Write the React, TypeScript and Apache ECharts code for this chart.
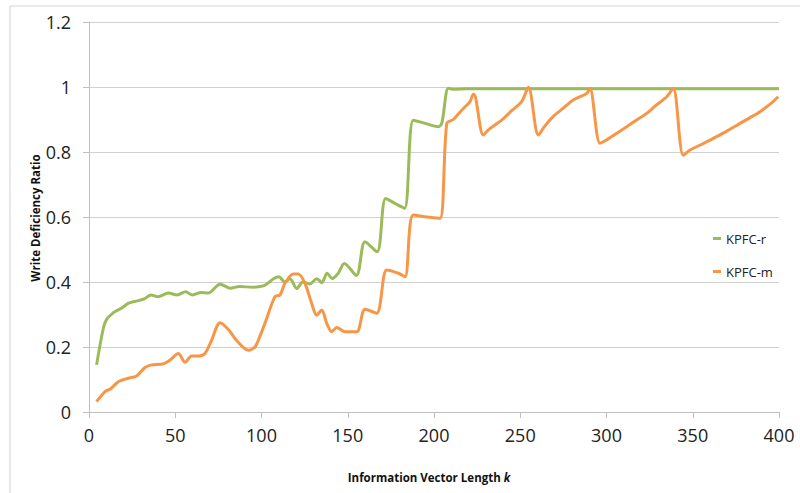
import React, { useEffect, useRef } from "react";
import * as echarts from "echarts";

const xTicks = [0, 50, 100, 150, 200, 250, 300, 350, 400];
const yTicks = [0, 0.2, 0.4, 0.6, 0.8, 1, 1.2];

const kR = [4.4, 8, 10, 14, 19, 23, 28, 32, 36, 40, 46, 51, 56, 60, 65, 69, 76, 82, 87, 95, 99, 102, 107, 110, 113.6, 116.5, 120.4, 124, 128, 132, 135, 138, 141, 144.5, 148, 155, 160, 167, 172, 178, 183, 188, 195, 202.5, 204.5, 208.3, 211, 220, 250, 300, 350, 400];
const rValues = [0.145, 0.25, 0.283, 0.305, 0.32, 0.335, 0.342, 0.348, 0.36, 0.355, 0.366, 0.36, 0.37, 0.36, 0.368, 0.366, 0.393, 0.381, 0.386, 0.384, 0.386, 0.39, 0.41, 0.416, 0.4, 0.41, 0.38, 0.4, 0.394, 0.41, 0.398, 0.427, 0.411, 0.427, 0.457, 0.42, 0.524, 0.493, 0.657, 0.64, 0.627, 0.898, 0.888, 0.878, 0.888, 0.996, 0.993, 0.995, 0.995, 0.995, 0.995, 0.995];

const kM = [4.4, 9.3, 12.2, 17, 22.8, 27.6, 32.5, 36.3, 43, 47, 51.8, 55.7, 59.5, 63.4, 67.2, 71, 76, 80.8, 85.6, 92.4, 96.2, 99, 102, 107.8, 110.7, 113.6, 118.4, 121.3, 125.2, 129.1, 132, 134.9, 137.8, 140.7, 143.6, 148.4, 155.2, 160, 166.8, 172.6, 179.3, 183.2, 188, 197.7, 203.5, 207.4, 211.2, 217, 220.9, 222.8, 224, 228.6, 231.5, 239.2, 245, 250.8, 254.7, 260.5, 264, 269, 275, 280.7, 288.5, 290.4, 296.2, 300, 306, 311.7, 317, 323.3, 329, 334.9, 338.7, 344.5, 348.4, 355, 361.9, 370, 377.4, 383, 389, 395, 399.6];
const mValues = [0.032, 0.063, 0.07, 0.093, 0.104, 0.111, 0.137, 0.145, 0.148, 0.16, 0.18, 0.153, 0.172, 0.172, 0.18, 0.22, 0.275, 0.254, 0.22, 0.19, 0.2, 0.232, 0.273, 0.355, 0.36, 0.396, 0.425, 0.425, 0.396, 0.334, 0.298, 0.314, 0.273, 0.247, 0.26, 0.247, 0.247, 0.316, 0.304, 0.437, 0.427, 0.416, 0.606, 0.599, 0.596, 0.888, 0.9, 0.934, 0.955, 0.978, 0.97, 0.852, 0.868, 0.898, 0.927, 0.955, 0.999, 0.852, 0.878, 0.909, 0.935, 0.96, 0.98, 0.996, 0.827, 0.837, 0.858, 0.878, 0.897, 0.919, 0.945, 0.97, 0.996, 0.79, 0.806, 0.823, 0.842, 0.865, 0.888, 0.905, 0.924, 0.948, 0.97];

const seriesNames = ["KPFC-r", "KPFC-m"];
const colors = ["#9BBB59", "#F79646"];

export default function App() {
  const ref = useRef<HTMLDivElement>(null);
  useEffect(() => {
    if (!ref.current) return;
    const chart = echarts.init(ref.current, undefined, { renderer: "svg" });
    const font = "'Open Sans', 'Liberation Sans', sans-serif";
    chart.setOption({
      animation: false,
      textStyle: { fontFamily: font },
      grid: { left: 89, right: 21, top: 22, bottom: 81, containLabel: false },
      xAxis: {
        type: "value",
        min: xTicks[0],
        max: xTicks[xTicks.length - 1],
        interval: 50,
        axisLine: { lineStyle: { color: "#bfbfbf", width: 1 } },
        axisTick: { show: true, length: 6, lineStyle: { color: "#bfbfbf" } },
        axisLabel: { color: "#222", fontSize: 18, margin: 14, fontFamily: font },
        splitLine: { show: false },
      },
      yAxis: {
        type: "value",
        min: yTicks[0],
        max: yTicks[yTicks.length - 1],
        interval: 0.2,
        axisLine: { show: true, lineStyle: { color: "#bfbfbf", width: 1 } },
        axisTick: { show: true, length: 6, lineStyle: { color: "#bfbfbf" } },
        axisLabel: {
          color: "#222",
          fontSize: 18,
          margin: 18,
          fontFamily: font,
          formatter: (v: number) => String(Math.round(v * 10) / 10),
        },
        splitLine: { show: true, lineStyle: { color: "#d0d0d0", width: 1 } },
      },
      legend: {
        orient: "vertical",
        left: 708,
        top: 227,
        itemWidth: 8,
        itemHeight: 3,
        itemGap: 20,
        icon: "rect",
        data: seriesNames,
        textStyle: { color: "#222", fontSize: 13, fontFamily: font },
      },
      series: [
        {
          name: seriesNames[0],
          type: "line",
          data: kR.map((k, i) => [k, rValues[i]]),
          smooth: 0.3,
          showSymbol: false,
          lineStyle: { color: colors[0], width: 3 },
          itemStyle: { color: colors[0] },
        },
        {
          name: seriesNames[1],
          type: "line",
          data: kM.map((k, i) => [k, mValues[i]]),
          smooth: 0.3,
          showSymbol: false,
          lineStyle: { color: colors[1], width: 3 },
          itemStyle: { color: colors[1] },
        },
      ],
      graphic: [
        {
          type: "rect",
          shape: { x: 10, y: 6, width: 820, height: 520 },
          style: { fill: "none", stroke: "#d4d4d4", lineWidth: 1 },
          silent: true,
        },
        {
          type: "text",
          x: 35,
          y: 218,
          rotation: Math.PI / 2,
          style: {
            text: "Write Deficiency Ratio",
            fontSize: 11.5,
            fontWeight: "bold",
            fontFamily: font,
            fill: "#111",
            align: "center",
            verticalAlign: "middle",
          },
        },
        {
          type: "text",
          x: 429,
          y: 477,
          style: {
            text: "{n|Information Vector Length }{k|k}",
            rich: {
              n: { fontSize: 11.5, fontWeight: "bold", fontFamily: font, fill: "#111" },
              k: { fontSize: 11.5, fontWeight: "bold", fontStyle: "italic", fontFamily: font, fill: "#111" },
            },
            align: "center",
            verticalAlign: "middle",
          },
        },
      ],
    });
    return () => chart.dispose();
  }, []);
  return <div ref={ref} style={{ width: 800, height: 493, position: "absolute", left: 0, top: 0 }} />;
}
